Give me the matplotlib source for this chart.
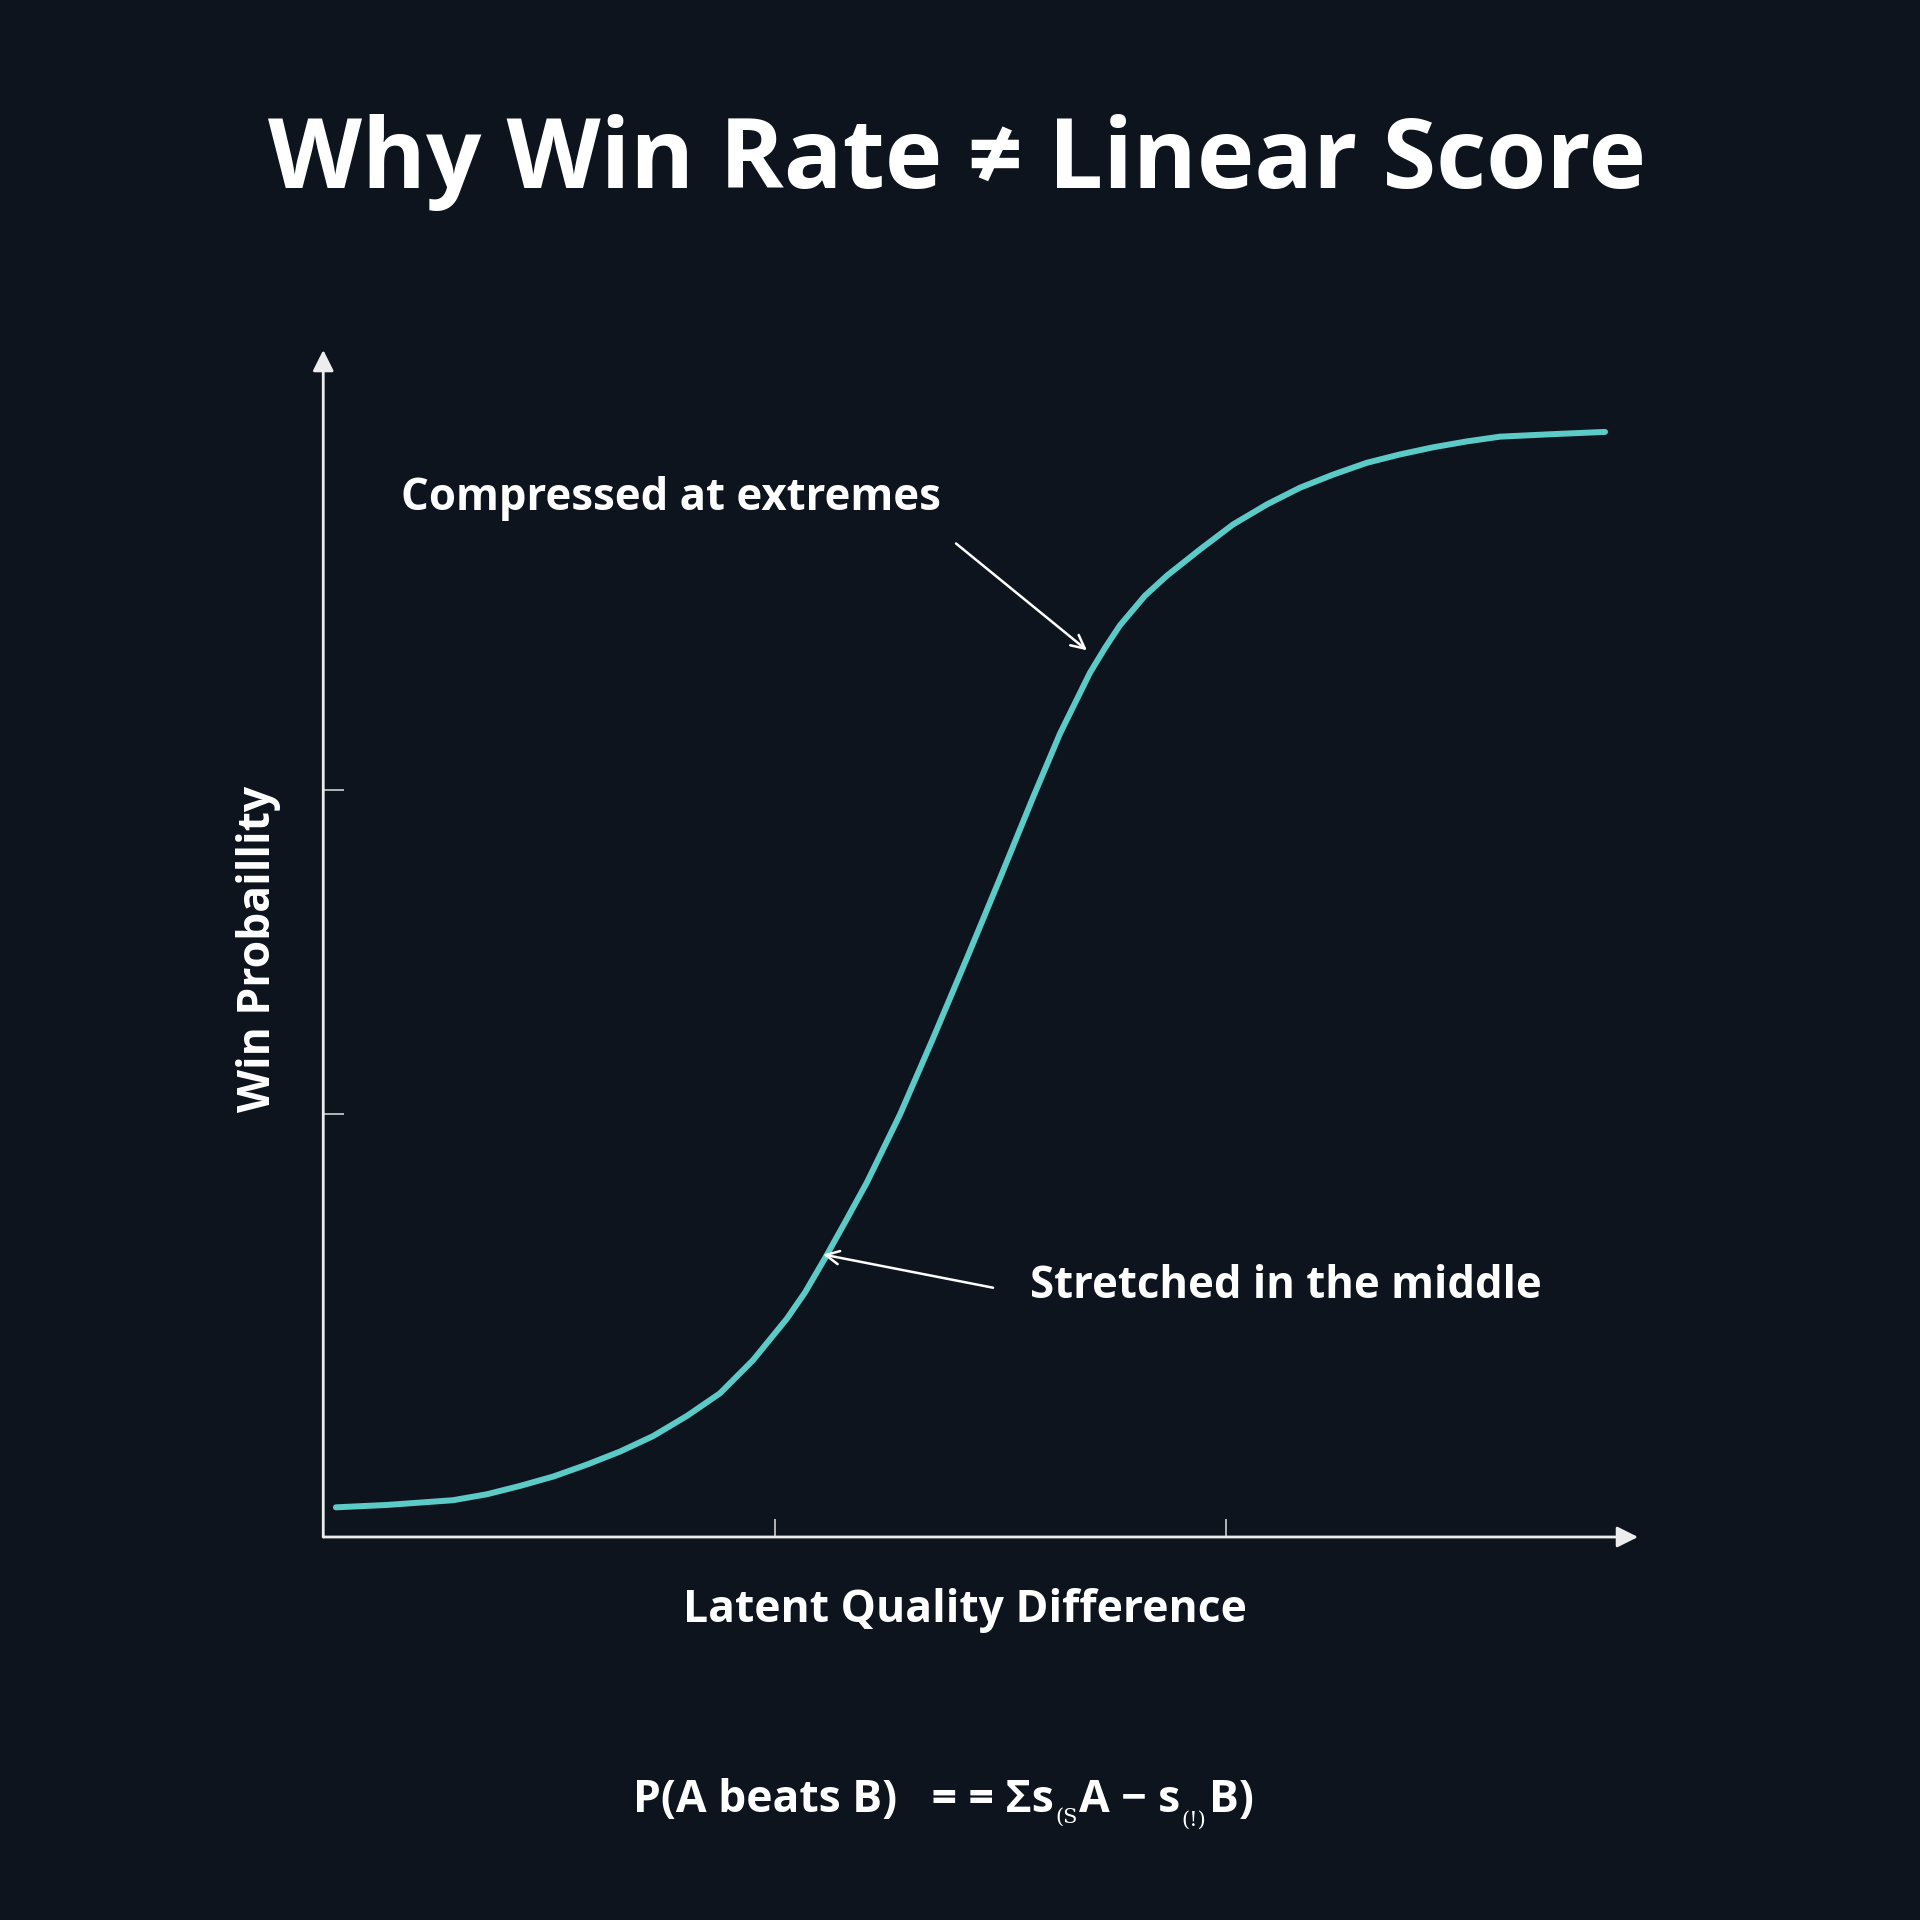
import matplotlib
matplotlib.use('Agg')
import matplotlib.pyplot as plt

# curve (x: latent quality difference, y: win probability)
quality_diff = [-2.944, -2.718, -2.571, -2.425, -2.275, -2.129, -1.980, -1.832, -1.685,
                -1.539, -1.389, -1.243, -1.096, -0.946, -0.866, -0.777, -0.689, -0.591,
                -0.445, -0.299, -0.148, -0.002, 0.144, 0.264, 0.396, 0.463, 0.529,
                0.640, 0.738, 0.884, 1.030, 1.181, 1.327, 1.473, 1.623, 1.769, 1.916,
                2.066, 2.213, 2.434, 2.678]
win_prob = [0.025, 0.027, 0.029, 0.031, 0.036, 0.043, 0.051, 0.061, 0.072,
            0.085, 0.102, 0.121, 0.149, 0.184, 0.206, 0.235, 0.265, 0.299,
            0.356, 0.420, 0.488, 0.555, 0.623, 0.677, 0.728, 0.749, 0.768,
            0.793, 0.810, 0.832, 0.853, 0.870, 0.884, 0.895, 0.905, 0.912, 0.918,
            0.923, 0.927, 0.929, 0.931]

x_ticks = [-1, 1]
y_ticks = [0.356, 0.629]

title = 'Why Win Rate \u2260 Linear Score'
x_label = 'Latent Quality Difference'
y_label = 'Win Probaillity'
note_top = 'Compressed at extremes'
note_mid = 'Stretched in the middle'

BG = '#0E141E'
TEAL = '#5CCBC7'
AXIS = '#EDEDED'
FONT = ['Open Sans', 'DejaVu Sans']
W = H = 1920


def fx(px):
    return px / W


def fy(py):
    return 1 - py / H


def main():
    fig = plt.figure(figsize=(19.2, 19.2), dpi=100, facecolor=BG)
    ax = fig.add_axes([0.16836, 0.19948, 0.68477, 0.61823])
    ax.set_facecolor(BG)
    ax.patch.set_alpha(0)

    ax.plot(quality_diff, win_prob, color=TEAL, lw=4.3,
            solid_capstyle='round', solid_joinstyle='round', clip_on=False, zorder=3)

    ax.set_xlim(-3, 2.824)
    ax.set_ylim(0, 1)
    for s in ax.spines.values():
        s.set_visible(False)

    # axes drawn as arrows
    arrow = dict(arrowstyle='-|>', color=AXIS, lw=2, mutation_scale=32,
                 shrinkA=0, shrinkB=0)
    ax.annotate('', xy=(0, 1), xytext=(0, 0), xycoords='axes fraction', arrowprops=arrow)
    ax.annotate('', xy=(1, 0), xytext=(0, 0), xycoords='axes fraction', arrowprops=arrow)

    ax.set_xticks(x_ticks)
    ax.set_yticks(y_ticks)
    ax.tick_params(axis='x', direction='in', length=13, width=1.2, color='#CFCFCF',
                   labelbottom=False)
    ax.tick_params(axis='y', direction='in', length=15, width=1.2, color='#CFCFCF',
                   labelleft=False)

    # annotations
    note_arrow = dict(arrowstyle='->', color='white', lw=1.8, mutation_scale=24,
                      shrinkA=0, shrinkB=0)
    ax.annotate('', xy=(0.383, 0.747), xytext=(-0.197, 0.837), arrowprops=note_arrow)
    ax.annotate('', xy=(-0.786, 0.238), xytext=(-0.033, 0.210), arrowprops=note_arrow)
    fig.text(fx(401), fy(510), note_top, ha='left', va='baseline', color='white',
             fontsize=31.5, fontweight='bold', family=FONT)
    fig.text(fx(1030), fy(1298), note_mid, ha='left', va='baseline', color='white',
             fontsize=31.5, fontweight='bold', family=FONT)

    # titles and labels
    fig.text(fx(957), fy(188), title, ha='center', va='baseline', color='white',
             fontsize=70, fontweight='bold', family=FONT)
    fig.text(fx(965), fy(1622), x_label, ha='center', va='baseline', color='white',
             fontsize=32, fontweight='bold', family=FONT)
    fig.text(fx(270), fy(949), y_label, ha='center', va='baseline', rotation=90,
             rotation_mode='anchor', color='white', fontsize=32, fontweight='bold',
             family=FONT)

    # formula at the bottom, pieced together
    f_main = dict(fontsize=32, fontweight='bold', color='white', family=FONT)
    f_sub = dict(fontsize=15, color='white', family='DejaVu Serif')
    t1 = fig.text(fx(633), fy(1812), 'P(A beats B)   = = \u03a3s', ha='left',
                  va='baseline', **f_main)
    t2 = ax.annotate('(S', xy=(1, 0), xycoords=t1, xytext=(1, 0),
                     textcoords='offset points', ha='left', va='baseline', **f_sub)
    t3 = ax.annotate('A \u2212 s', xy=(1, 0), xycoords=(t2, t1), xytext=(1, 0),
                     textcoords='offset points', ha='left', va='bottom', **f_main)
    t4 = ax.annotate('(!)', xy=(1, 0), xycoords=t3, xytext=(1, -2),
                     textcoords='offset points', ha='left', va='baseline', **f_sub)
    ax.annotate('B)', xy=(1, 0), xycoords=(t4, t1), xytext=(2, 0),
                textcoords='offset points', ha='left', va='bottom', **f_main)

    plt.savefig('out.png', dpi=100, facecolor=BG)


if __name__ == '__main__':
    main()
